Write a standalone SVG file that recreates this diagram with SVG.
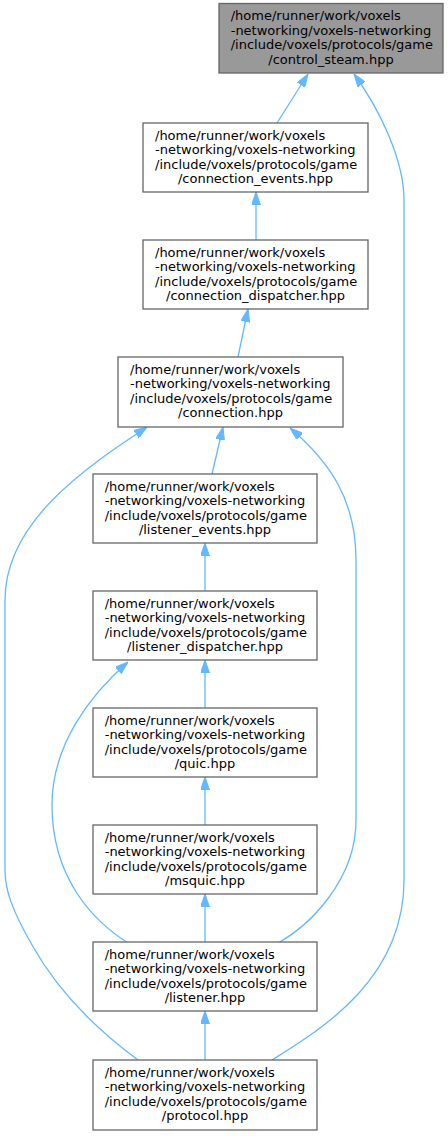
<svg xmlns="http://www.w3.org/2000/svg" width="448" height="1136" viewBox="0 0 448 1136">
<style>
.n rect{fill:#ffffff;stroke:#666666;stroke-width:1.3}
#n1 rect{fill:#999999}
.n text{font-family:"DejaVu Sans",sans-serif;font-size:13px;fill:#000000}
.c{text-anchor:middle}
.e path{fill:none;stroke:#63b8ff;stroke-width:1.3;marker-end:url(#ah)}
</style>
<defs>
<marker id="ah" markerUnits="userSpaceOnUse" viewBox="0 0 13 9" refX="13" refY="4.5" markerWidth="13" markerHeight="9" orient="auto">
<path d="M0,0 L13,4.5 L0,9 z" fill="#63b8ff" stroke="#63b8ff" stroke-width="1"/>
</marker>
</defs>
<rect width="448" height="1136" fill="#ffffff"/>
<g class="e" id="edges">
<path d="M277,123 L308,74"/>
<path d="M272,1060 C320,1030 404,980 404,880 L404,200 C404,160 380,110 354,74"/>
<path d="M256,240 L256,192"/>
<path d="M238,357 L248,309"/>
<path d="M212,474 L223,427"/>
<path d="M138,1060 C100,1032 60,995 32,945 C12,910 5,890 5,870 L5,600 C5,520 90,465 147,427"/>
<path d="M278,943 C310,925 356,880 356,820 L356,560 C356,500 330,462 290,428"/>
<path d="M205,591 L205,543"/>
<path d="M205,708 L205,660"/>
<path d="M128,943 C95,922 52,880 52,805 C52,745 90,695 128,662"/>
<path d="M205,825 L205,777"/>
<path d="M205,942 L205,894"/>
<path d="M205,1060 L205,1011"/>
</g>
<g class="n" id="n1">
<rect x="219" y="3.5" width="224" height="69.5"/>
<text x="230.7" y="20">/home/runner/work/voxels</text>
<text x="230.7" y="34.5">-networking/voxels-networking</text>
<text x="230.7" y="49">/include/voxels/protocols/game</text>
<text class="c" x="331" y="63.5">/control_steam.hpp</text>
</g>
<g class="n" id="n2">
<rect x="143" y="123" width="225" height="69"/>
<text x="155" y="139.5">/home/runner/work/voxels</text>
<text x="155" y="154">-networking/voxels-networking</text>
<text x="155" y="168.5">/include/voxels/protocols/game</text>
<text class="c" x="255.5" y="183">/connection_events.hpp</text>
</g>
<g class="n" id="n3">
<rect x="143" y="240" width="225" height="69"/>
<text x="155" y="256.5">/home/runner/work/voxels</text>
<text x="155" y="271">-networking/voxels-networking</text>
<text x="155" y="285.5">/include/voxels/protocols/game</text>
<text class="c" x="255.5" y="300">/connection_dispatcher.hpp</text>
</g>
<g class="n" id="n4">
<rect x="118" y="357" width="225" height="70"/>
<text x="130" y="373.5">/home/runner/work/voxels</text>
<text x="130" y="388">-networking/voxels-networking</text>
<text x="130" y="402.5">/include/voxels/protocols/game</text>
<text class="c" x="230.5" y="417">/connection.hpp</text>
</g>
<g class="n" id="n5">
<rect x="93" y="474" width="224" height="69"/>
<text x="104.7" y="490.5">/home/runner/work/voxels</text>
<text x="104.7" y="505">-networking/voxels-networking</text>
<text x="104.7" y="519.5">/include/voxels/protocols/game</text>
<text class="c" x="205" y="534">/listener_events.hpp</text>
</g>
<g class="n" id="n6">
<rect x="93" y="591" width="224" height="69"/>
<text x="104.7" y="607.5">/home/runner/work/voxels</text>
<text x="104.7" y="622">-networking/voxels-networking</text>
<text x="104.7" y="636.5">/include/voxels/protocols/game</text>
<text class="c" x="205" y="651">/listener_dispatcher.hpp</text>
</g>
<g class="n" id="n7">
<rect x="93" y="708" width="224" height="69"/>
<text x="104.7" y="724.5">/home/runner/work/voxels</text>
<text x="104.7" y="739">-networking/voxels-networking</text>
<text x="104.7" y="753.5">/include/voxels/protocols/game</text>
<text class="c" x="205" y="768">/quic.hpp</text>
</g>
<g class="n" id="n8">
<rect x="93" y="825" width="224" height="69"/>
<text x="104.7" y="841.5">/home/runner/work/voxels</text>
<text x="104.7" y="856">-networking/voxels-networking</text>
<text x="104.7" y="870.5">/include/voxels/protocols/game</text>
<text class="c" x="205" y="885">/msquic.hpp</text>
</g>
<g class="n" id="n9">
<rect x="93" y="942" width="224" height="69"/>
<text x="104.7" y="958.5">/home/runner/work/voxels</text>
<text x="104.7" y="973">-networking/voxels-networking</text>
<text x="104.7" y="987.5">/include/voxels/protocols/game</text>
<text class="c" x="205" y="1002">/listener.hpp</text>
</g>
<g class="n" id="n10">
<rect x="93" y="1060" width="224" height="70"/>
<text x="104.7" y="1076.5">/home/runner/work/voxels</text>
<text x="104.7" y="1091">-networking/voxels-networking</text>
<text x="104.7" y="1105.5">/include/voxels/protocols/game</text>
<text class="c" x="205" y="1120">/protocol.hpp</text>
</g>
</svg>
